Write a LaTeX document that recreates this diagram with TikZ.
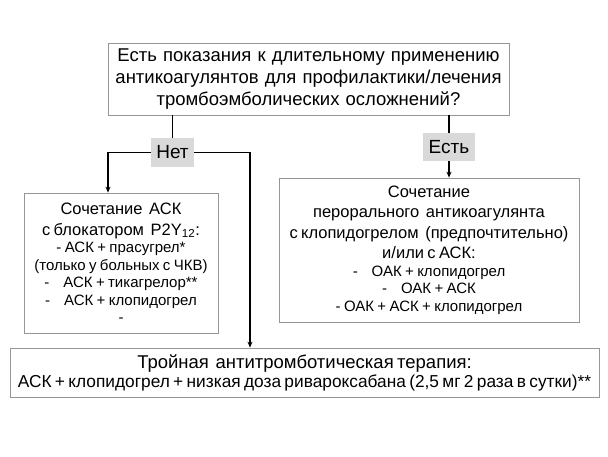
\documentclass[tikz,border=0pt]{standalone}
\usepackage{fontspec}
\setmainfont{Liberation Sans}
\usetikzlibrary{arrows.meta}

\begin{document}
\begin{tikzpicture}[x=1pt,y=-1pt]
    % Define colours
    \definecolor{boxgray}{RGB}{150,150,150} % box border
    \definecolor{tagfill}{RGB}{217,217,217} % answer label
    % Define font sizes
    \def\big{\fontsize{16.5}{20.5}\selectfont}
    \def\small{\fontsize{15}{17.5}\selectfont}
    % Define styles
    \tikzset{
        infobox/.style={draw=boxgray, line width=0.8pt, align=center, inner sep=0pt},
        answer/.style={fill=tagfill, inner sep=0pt, font=\fontsize{19}{21}\selectfont},
        link/.style={line width=1.6pt},
        arr/.style={link, -{Stealth[length=6pt,width=5pt]}}
    }
    \useasboundingbox (0,0) rectangle (608,456);

    % Question
    \node[infobox, minimum width=401pt, minimum height=72pt, text width=395pt,
          font=\fontsize{18.5}{21.7}\selectfont] (question) at (308.5,79)
        {Есть показания к длительному применению\par
         антикоагулянтов для профилактики/лечения\par
         тромбоэмболических осложнений?\par};

    % Answers
    \node[answer, minimum width=43pt, minimum height=29pt] (no) at (172.5,152.5) {Нет};
    \node[answer, minimum width=52pt, minimum height=28pt] (yes) at (449,147) {Есть};

    % Left box
    \node[infobox, minimum width=194pt, minimum height=140pt, text width=190pt] (dapt) at (121,263)
        {{\big Сочетание\ \ АСК\par
          с блокатором\ \ P2Y\textsubscript{12}:\par}
         {\small - АСК + прасугрел*\par
          (только у больных с ЧКВ)\par
          -\hspace{14pt}АСК + тикагрелор**\par
          -\hspace{14pt}АСК + клопидогрел\par
          -\par}};

    % Right box
    \node[infobox, minimum width=300pt, minimum height=144pt, text width=296pt] (oak) at (429,250)
        {{\big Сочетание\par
          перорального\ \ антикоагулянта\par
          с клопидогрелом\ \ (предпочтительно)\par
          и/или с АСК:\par}
         {\small -\hspace{14pt}ОАК + клопидогрел\par
          -\hspace{14pt}ОАК + АСК\par
          - ОАК + АСК + клопидогрел\par}};

    % Bottom box
    \node[infobox, minimum width=589pt, minimum height=49pt, text width=587pt] (triple) at (304.5,372.5)
        {{\fontsize{18.5}{19}\selectfont Тройная\ \ антитромботическая терапия:\par}
         {\fontsize{17.3}{19}\selectfont АСК + клопидогрел + низкая доза ривароксабана\ (2,5 мг 2 раза в сутки)**\par}};

    % Connectors
    \draw[link] (question.south -| no.north) -- (no.north);
    \draw[arr] (no.west) -| ([xshift=-13pt]dapt.north);
    \draw[arr] (no.east) -| ([xshift=-54.5pt]triple.north);
    \draw[link] (question.south -| yes.north) -- (yes.north);
    \draw[arr] (yes.south) -- (yes.south |- oak.north);
\end{tikzpicture}
\end{document}
